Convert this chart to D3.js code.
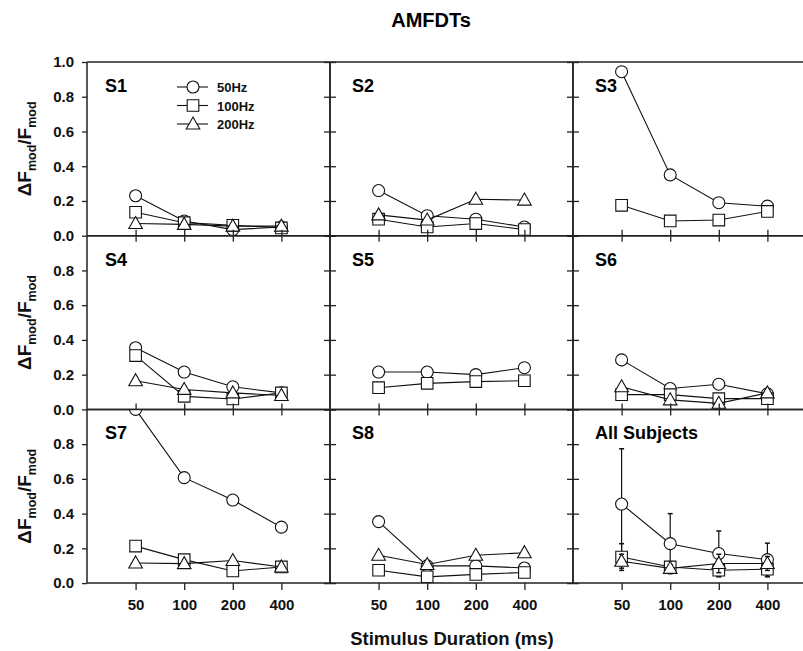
<!DOCTYPE html>
<html><head><meta charset="utf-8">
<script src="https://cdn.jsdelivr.net/npm/d3@7"></script>
<style>body{margin:0;background:#fff}svg{display:block}</style>
</head><body>
<script>
const durations = ["50", "100", "200", "400"];
const panelNames = ["S1","S2","S3","S4","S5","S6","S7","S8","All Subjects"];
const seriesNames = ["50Hz","100Hz","200Hz"];
const hz50 = [
  [0.23,0.085,0.035,0.05],
  [0.26,0.115,0.095,0.05],
  [0.944,0.35,0.19,0.17],
  [0.355,0.215,0.13,0.095],
  [0.215,0.215,0.2,0.24],
  [0.285,0.12,0.145,0.09],
  [1.0,0.607,0.478,0.322],
  [0.354,0.099,0.099,0.087],
  [0.455,0.227,0.17,0.135]
];
const hz100 = [
  [0.135,0.075,0.06,0.045],
  [0.095,0.05,0.07,0.035],
  [0.175,0.085,0.09,0.14],
  [0.31,0.075,0.06,0.095],
  [0.125,0.15,0.16,0.165],
  [0.085,0.085,0.062,0.062],
  [0.213,0.135,0.07,0.093],
  [0.074,0.036,0.05,0.061],
  [0.15,0.093,0.074,0.08]
];
const hz200 = [
  [0.07,0.065,0.055,0.055],
  [0.12,0.09,0.21,0.205],
  null,
  [0.165,0.115,0.095,0.08],
  null,
  [0.13,0.055,0.035,0.095],
  [0.116,0.112,0.13,0.093],
  [0.16,0.107,0.16,0.175],
  [0.126,0.085,0.113,0.113]
];
const errAll50 = [0.318,0.173,0.13,0.095];
const errAll100 = [0.077,0.03,0.038,0.044];
const errAll200 = [0.04,0.02,0.053,0.04];
const yTicks = [0,0.2,0.4,0.6,0.8,1.0];

const W = 803, H = 651;
const leftX = 87, topY = 62, colW = 243, rowH = 173.7;
const svg = d3.select("body").append("svg").attr("width", W).attr("height", H);
const font = "Liberation Sans, Arial, sans-serif";

// title
svg.append("text").attr("x", 431).attr("y", 27).attr("text-anchor","middle")
  .attr("font-family", font).attr("font-weight","bold").attr("font-size", 20).text("AMFDTs");

const defs = svg.append("defs");

function symbolPath(kind) {
  if (kind === 0) return d3.symbol().type(d3.symbolCircle).size(Math.PI*6*6)();
  if (kind === 1) return "M-5.8,-5.8H5.8V5.8H-5.8Z";
  return "M0,-7L6.8,5H-6.8Z";
}

const allSeries = [hz50, hz100, hz200];
const allErr = [errAll50, errAll100, errAll200];

panelNames.forEach((name, p) => {
  const col = p % 3, row = Math.floor(p / 3);
  const x0 = leftX + col * colW, y0 = topY + row * rowH;
  const x = d3.scalePoint().domain(durations).range([x0, x0 + colW]).padding(1);
  const y = d3.scaleLinear().domain([0, 1]).range([y0 + rowH, y0]);
  const clipId = "clip" + p;
  defs.append("clipPath").attr("id", clipId).append("rect")
    .attr("x", x0).attr("y", y0).attr("width", colW).attr("height", rowH);
  const g = svg.append("g").attr("clip-path", `url(#${clipId})`);

  // panel label
  svg.append("text").attr("x", x0 + (col === 0 ? 18 : 22)).attr("y", y0 + 30)
    .attr("font-family", font).attr("font-weight","bold").attr("font-size", 18).text(name);

  allSeries.forEach((ser, k) => {
    const vals = ser[p];
    if (!vals) return;
    const pts = durations.map((d, i) => ({d, v: vals[i], e: p === 8 ? allErr[k][i] : 0}));
    if (p === 8) {
      pts.forEach(pt => {
        const cx = x(pt.d);
        g.append("line").attr("x1", cx).attr("x2", cx).attr("y1", y(pt.v - pt.e)).attr("y2", y(pt.v + pt.e))
          .attr("stroke","#111").attr("stroke-width",1.2);
        [pt.v - pt.e, pt.v + pt.e].forEach(ev => {
          g.append("line").attr("x1", cx - 2.5).attr("x2", cx + 2.5).attr("y1", y(ev)).attr("y2", y(ev))
            .attr("stroke","#111").attr("stroke-width",1.5);
        });
      });
    }
    g.append("path").datum(pts)
      .attr("d", d3.line().x(pt => x(pt.d)).y(pt => y(pt.v)))
      .attr("fill","none").attr("stroke","#111").attr("stroke-width",1.1);
    g.selectAll(null).data(pts).enter().append("path")
      .attr("d", symbolPath(k))
      .attr("transform", pt => `translate(${x(pt.d)},${y(pt.v)})`)
      .attr("fill","#fff").attr("stroke","#111").attr("stroke-width",1.1);
  });

  const frame = svg.append("g").attr("stroke","#222").attr("stroke-width",1.5);
  frame.append("line").attr("x1", x0).attr("x2", x0 + colW).attr("y1", y0).attr("y2", y0);
  frame.append("line").attr("x1", x0).attr("x2", x0 + colW).attr("y1", y0 + rowH).attr("y2", y0 + rowH);
  frame.append("line").attr("x1", x0).attr("x2", x0).attr("y1", y0).attr("y2", y0 + rowH);
  frame.append("line").attr("x1", x0 + colW).attr("x2", x0 + colW).attr("y1", y0).attr("y2", y0 + rowH);

  const yAxis = col === 0
    ? d3.axisLeft(y).tickValues(row === 0 ? yTicks : yTicks.slice(0, 5)).tickFormat(d3.format(".1f")).tickSize(5).tickPadding(8)
    : d3.axisLeft(y).tickValues(yTicks).tickFormat("").tickSizeInner(-6).tickSizeOuter(0);
  const ya = svg.append("g").attr("transform", `translate(${x0},0)`).call(yAxis);
  if (col !== 0) {
    ya.selectAll(".tick line").attr("x1", -6).attr("x2", 6);
  }
  ya.select(".domain").remove();
  ya.selectAll(".tick line").attr("stroke","#222").attr("stroke-width",1.3);
  ya.selectAll("text").attr("font-family", font).attr("font-weight","bold").attr("font-size", 15).attr("fill","#111");

  const xAxis = d3.axisBottom(x).tickSizeOuter(0).tickSizeInner(row === 2 ? 7 : 6).tickPadding(9);
  if (row !== 2) xAxis.tickFormat("");
  const xa = svg.append("g").attr("transform", `translate(0,${y0 + rowH})`).call(xAxis);
  xa.select(".domain").remove();
  if (row !== 2) xa.selectAll(".tick line").attr("y1", -6).attr("y2", 6);
  xa.selectAll(".tick line").attr("stroke","#222").attr("stroke-width",1.3);
  xa.selectAll("text").attr("font-family", font).attr("font-weight","bold").attr("font-size", 15).attr("fill","#111");

  if (col === 0) {
    const t = svg.append("text")
      .attr("transform", `translate(31,${y0 + rowH / 2}) rotate(-90)`)
      .attr("text-anchor","middle").attr("font-family", font).attr("font-weight","bold")
      .attr("font-size", 19).attr("fill","#111");
    t.append("tspan").text("\u0394F");
    t.append("tspan").attr("font-size", 12.5).attr("dy", 5).text("mod");
    t.append("tspan").attr("dy", -5).text("/F");
    t.append("tspan").attr("font-size", 12.5).attr("dy", 5).text("mod");
  }
});

const lg = svg.append("g");
seriesNames.forEach((s, k) => {
  const ly = 87 + k * 18.5;
  lg.append("line").attr("x1", 177).attr("x2", 208).attr("y1", ly).attr("y2", ly)
    .attr("stroke","#111").attr("stroke-width",1.1);
  lg.append("path").attr("d", symbolPath(k)).attr("transform", `translate(193,${ly})`)
    .attr("fill","#fff").attr("stroke","#111").attr("stroke-width",1.1);
  lg.append("text").attr("x", 217).attr("y", ly + 5).attr("font-family", font)
    .attr("font-weight","bold").attr("font-size", 13).attr("fill","#111").text(s);
});

svg.append("text").attr("x", 452).attr("y", 645).attr("text-anchor","middle")
  .attr("font-family", font).attr("font-weight","bold").attr("font-size", 18.5).attr("fill","#111")
  .text("Stimulus Duration (ms)");
</script>
</body></html>
